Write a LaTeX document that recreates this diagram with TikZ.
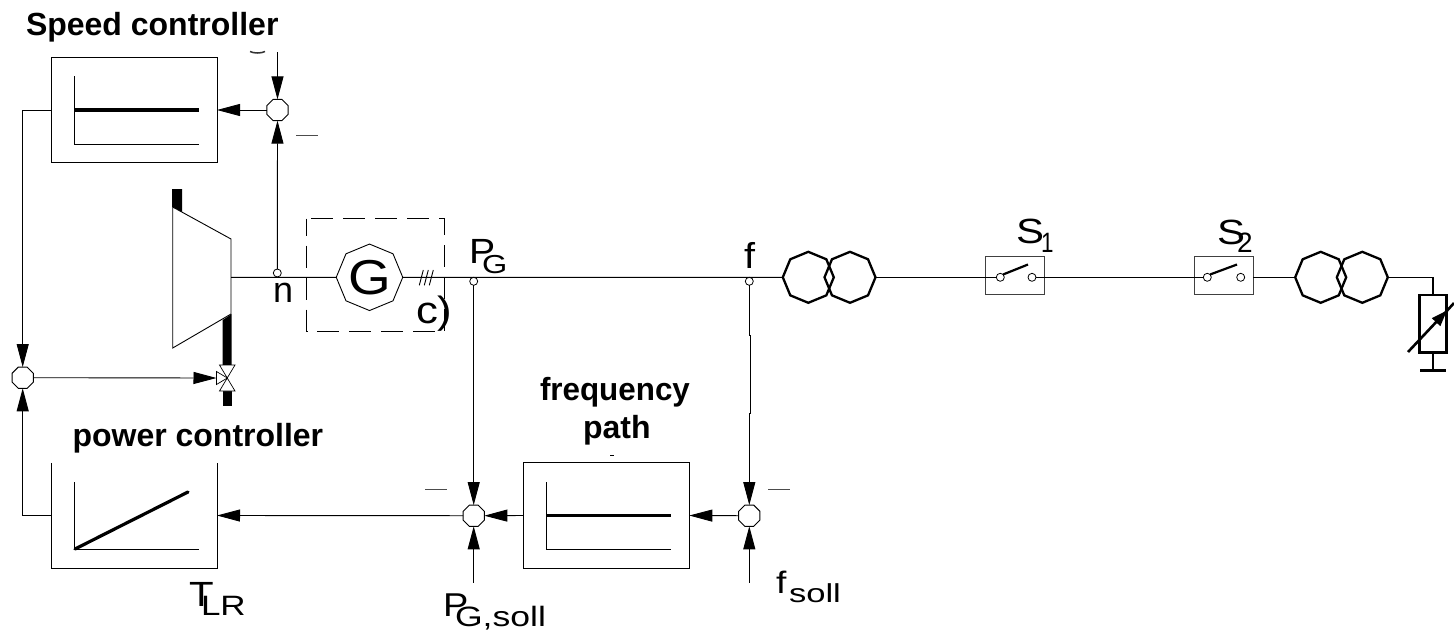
\documentclass[tikz,border=0pt]{standalone}
\usepackage{fontspec}
\setmainfont{Liberation Sans}
\usetikzlibrary{arrows.meta,shapes.geometric}
\newcommand{\fs}[2]{\fontsize{#1}{#1}\selectfont #2}
\newcommand{\wid}[2]{\scalebox{#1}[1]{#2}}
\tikzset{
  wire/.style={draw=black,line width=0.9pt},
  feed/.style={wire,-{Triangle[length=23pt,width=12pt]}},
  summer/.style={draw=black,line width=0.9pt,fill=white,regular polygon,regular polygon sides=8,minimum size=23pt,inner sep=0pt,outer sep=0pt},
  tapdot/.style={draw=black,line width=0.8pt,fill=white,circle,minimum size=8pt,inner sep=0pt,outer sep=0pt},
  ctrlbox/.style={draw=black,line width=0.9pt,rectangle,minimum width=166pt,minimum height=105.5pt,inner sep=0pt,outer sep=0pt},
  swbox/.style={draw=black!75,line width=1pt,rectangle,minimum width=58.5pt,minimum height=38pt,inner sep=0pt,outer sep=0pt},
  trafo/.style={draw=black,line width=2.3pt,regular polygon,regular polygon sides=8,shape border rotate=22.5,minimum size=51pt,inner sep=0pt,outer sep=0pt},
  axisline/.style={draw=black,line width=0.9pt},
  curve/.style={draw=black,line width=3.2pt},
  stub/.style={fill=black,draw=none},
  title/.style={inner sep=0pt,outer sep=0pt,anchor=base west,font=\bfseries\fontsize{32}{36}\selectfont,text=black},
  sym/.style={inner sep=0pt,outer sep=0pt,anchor=base west,text=black},
  minus/.style={draw=black!70,line width=0.9pt}
}
\begin{document}
\begin{tikzpicture}[x=1pt,y=-1pt]
\useasboundingbox[fill=white] (0,0) rectangle (1454,633);

% controller boxes
\node[ctrlbox] (speed) at (134,110) {};
\node[ctrlbox] (freq) at (606.3,515.5) {};
\node[rectangle,minimum width=166pt,minimum height=105.5pt,inner sep=0pt,outer sep=0pt] (power) at (134,515.5) {};
\draw[wire] (power.north west) -- (power.south west) -- (power.south east) -- (power.north east);

% characteristic curves
\draw[axisline] (74,76) -- (74,144) -- (199,144);
\draw[curve] (74,110) -- (199,110);
\draw[axisline] (74,482) -- (74,549.5) -- (199,549.5);
\draw[curve,line cap=round] (75,549) -- (188,492);
\draw[axisline] (546.7,482) -- (546.7,549.5) -- (671,549.5);
\draw[curve] (546.7,515.7) -- (671,515.7);

% turbine and valve
\fill[stub] (172,189) -- (182,189) -- (182,212.5) -- (172,207) -- cycle;
\fill[stub] (222.7,320) -- (231.7,314) -- (231.7,366) -- (222.7,366) -- cycle;
\fill[stub] (222.7,390) -- (231.7,390) -- (231.7,405.7) -- (222.7,405.7) -- cycle;
\draw[wire,fill=white] (172.7,207) -- (231,239) -- (231,314) -- (172.7,348) -- cycle;
\coordinate (shaft) at (231,277.3);
\coordinate (valve) at (216.5,378);
\draw[draw=black,line width=0.7pt,fill=white] (219.5,365) -- (235,365) -- (219.5,391) -- (235,391) -- cycle;
\draw[draw=black,line width=0.7pt,fill=white] (227.3,378) -- (216.5,371.5) -- (216.5,384.5) -- cycle;

% summing points and taps
\node[summer] (s1) at (277.5,110) {};
\node[summer] (s2) at (473.7,515.7) {};
\node[summer] (s3) at (22.7,377.7) {};
\node[summer] (s4) at (749.3,515.7) {};
\node[tapdot] (n1) at (277.3,273) {};
\node[tapdot] (pg) at (473.7,281.3) {};
\node[tapdot] (fj) at (749.3,281.3) {};

% generator
\draw[draw=black,line width=0.9pt,dash pattern=on 22pt off 10pt,dash phase=5pt] (306.5,218.5) rectangle (444.5,331);
\node[draw=black,line width=0.9pt,regular polygon,regular polygon sides=8,shape border rotate=22.5,minimum size=66.5pt,inner sep=0pt,outer sep=0pt,text=black] (gen) at (369.5,277.3) {\wid{1.12}{\fs{49}{G}}};
\draw[wire] (419.3,285.3) -- (423.3,270);
\draw[wire] (424.3,285.3) -- (428.3,270);
\draw[wire] (429.3,285.3) -- (433.3,270);

% transformers
\node[trafo] (t1a) at (808.3,277.3) {};
\node[trafo] (t1b) at (850,277.3) {};
\node[trafo] (t2a) at (1320.7,277.3) {};
\node[trafo] (t2b) at (1362.3,277.3) {};

% switches
\node[swbox] (sw1) at (1015,275) {};
\node[swbox] (sw2) at (1224.2,275) {};
\node[tapdot] (c1a) at (1000.3,277.3) {};
\node[tapdot] (c1b) at (1032,277.3) {};
\node[tapdot] (c2a) at (1207.3,277.3) {};
\node[tapdot] (c2b) at (1240.7,277.3) {};
\draw[draw=black,line width=2.2pt] (c1a.north east) -- (1028,264.5);
\draw[draw=black,line width=2.2pt] (c2a.north east) -- (1237,264.5);

% load
\coordinate (tee) at (1433,277.3);
\node[draw=black,line width=2.6pt,rectangle,minimum width=27.4pt,minimum height=57.5pt,inner sep=0pt,outer sep=0pt] (load) at (1433,323.7) {};
\coordinate (earth) at (1433,370.7);
\draw[draw=black,line width=2.6pt] (tee) -- (load.north);
\draw[draw=black,line width=2.6pt] (load.south) -- (earth);
\draw[draw=black,line width=3pt] (1420,370.7) -- (1446,370.7);
\draw[draw=black,line width=2.6pt,-{Triangle[length=16pt,width=11pt]}] (1408,352) -- (1447,310.5);
\draw[draw=black,line width=2.6pt] (1444,314) -- (1454,303);

% main line
\draw[wire] (shaft) -- (gen.west);
\draw[wire] (gen.east) -- (t1a.west);
\draw[wire] (t1b.east) -- (c1a.west);
\draw[wire] (c1b.east) -- (c2a.west);
\draw[wire] (sw2.east |- t2a.west) -- (t2a.west);
\draw[wire] (t2b.east) -- (tee);

% feedback connectors
\coordinate (sv) at (277.5,52);
\coordinate (pin) at (473.7,582.7);
\coordinate (fin) at (749.3,582.7);
\draw[feed] (sv) -- (s1.north);
\draw[feed] (n1.north) -- (s1.south);
\draw[feed] (s1.west) -- (speed.east);
\draw[feed] (speed.west) -| (s3.north);
\draw[feed] (power.west) -| (s3.south);
\draw[feed] (s3.east) -- (valve);
\draw[feed] (pg.south) -- (s2.north);
\draw[feed] (pin) -- (s2.south);
\draw[feed] (s2.west) -- (power.east);
\draw[feed] (freq.west) -- (s2.east);
\draw[feed] (s4.west) -- (freq.east);
\coordinate (jog) at (750.3,413);
\draw[wire] (fj.south) -- (749.3,335) -- (750.3,335) -- (jog) -- (749.3,413) -- (749.3,440);
\draw[feed] (749.3,440) -- (s4.north);
\draw[feed] (fin) -- (s4.south);

% minus signs and remnants
\draw[minus] (296,135) -- (318,135);
\draw[minus] (425,489.7) -- (447,489.7);
\draw[minus] (768,489.7) -- (790,489.7);
\draw[draw=black,line width=1.2pt] (610,455.7) -- (614,455.7);
\draw[draw=black!80,line width=1.5pt] (250,51.5) .. controls (254,53.5) and (261,53.5) .. (265,51.5);

% bold titles
\node[title] (t-speed) at (26,35) {Speed controller};
\node[title] (t-power) at (72.5,446.5) {power controller};
\node[title] (t-freq) at (540,400) {\wid{0.98}{frequency}};
\node[title] (t-path) at (583,438) {path};

% symbols
\node[sym] (l-n) at (273,302) {\fs{36}{n}};
\node[sym] (l-c) at (416,323) {\wid{1.15}{\fs{38}{c)}}};
\node[sym] (l-p) at (469,263) {\wid{1.12}{\fs{35}{P}}};
\node[sym] (l-pi) at (482,273) {\wid{1.25}{\fs{26}{G}}};
\node[sym] (l-f) at (744,268) {\wid{1.1}{\fs{36}{f}}};
\node[sym] (l-s1) at (1016,243) {\wid{1.2}{\fs{35}{S}}};
\node[sym] (l-s1i) at (1041,252) {\wid{0.8}{\fs{28}{1}}};
\node[sym] (l-s2) at (1217,244) {\wid{1.2}{\fs{35}{S}}};
\node[sym] (l-s2i) at (1237,252) {\fs{28}{2}};
\node[sym] (l-t) at (189,606.7) {\wid{1.15}{\fs{35}{T}}};
\node[sym] (l-ti) at (201,615) {\wid{1.25}{\fs{28}{LR}}};
\node[sym] (l-ps) at (443,616.7) {\wid{1.15}{\fs{33}{P}}};
\node[sym] (l-psi) at (455,626.5) {\wid{1.27}{\fs{28}{G,soll}}};
\node[sym] (l-fs) at (776,593) {\wid{1.2}{\fs{31}{f}}};
\node[sym] (l-fsi) at (789,602) {\wid{1.33}{\fs{26}{soll}}};
\end{tikzpicture}
\end{document}
